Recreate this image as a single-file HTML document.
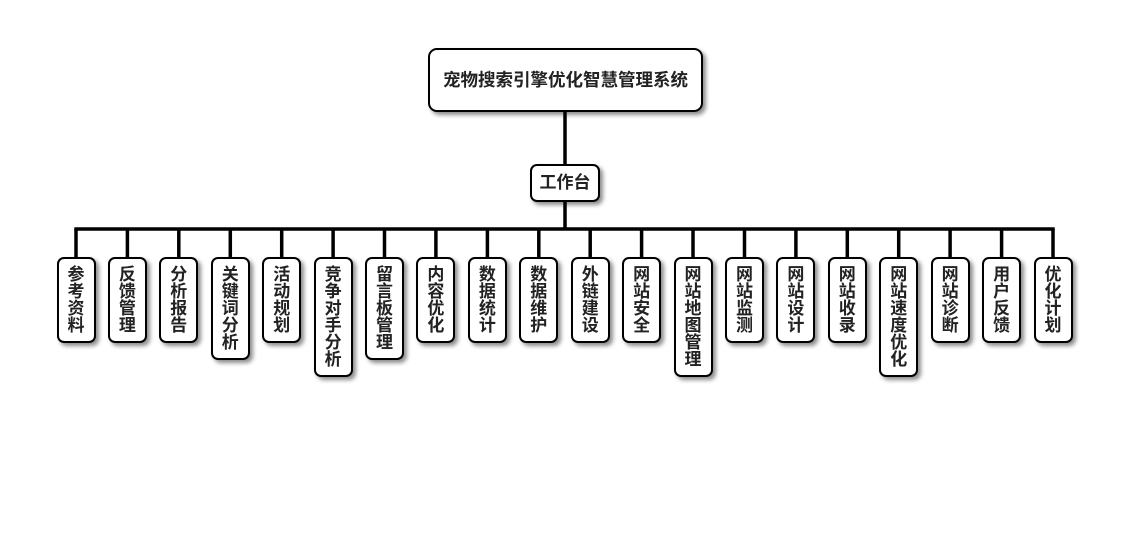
<!DOCTYPE html>
<html>
<head>
<meta charset="utf-8">
<style>
  html,body{margin:0;padding:0;background:#fff;}
  body{width:1130px;height:560px;position:relative;overflow:hidden;
       font-family:"Liberation Sans","Noto Sans CJK SC",sans-serif;font-weight:bold;color:#222;}
  .box{position:absolute;box-sizing:border-box;border:2px solid #000;background:#fff;
       border-radius:7px;box-shadow:3px 3px 4px rgba(0,0,0,0.45);text-align:center;}
  .leaf{width:39px;font-size:17px;line-height:17px;padding-top:7px;}
  svg{position:absolute;left:0;top:0;}
</style>
</head>
<body>
<svg width="1130" height="560">
  <g stroke="#000" stroke-width="3.5" fill="none">
    <line x1="565" y1="112" x2="565" y2="164"/>
    <line x1="565" y1="202" x2="565" y2="229"/>
    <line x1="74.3" y1="229" x2="1054.7" y2="229"/>
    <line x1="76" y1="229" x2="76" y2="258"/>
    <line x1="127.4" y1="229" x2="127.4" y2="258"/>
    <line x1="178.8" y1="229" x2="178.8" y2="258"/>
    <line x1="230.3" y1="229" x2="230.3" y2="258"/>
    <line x1="281.7" y1="229" x2="281.7" y2="258"/>
    <line x1="333.1" y1="229" x2="333.1" y2="258"/>
    <line x1="384.5" y1="229" x2="384.5" y2="258"/>
    <line x1="435.9" y1="229" x2="435.9" y2="258"/>
    <line x1="487.4" y1="229" x2="487.4" y2="258"/>
    <line x1="538.8" y1="229" x2="538.8" y2="258"/>
    <line x1="590.2" y1="229" x2="590.2" y2="258"/>
    <line x1="641.6" y1="229" x2="641.6" y2="258"/>
    <line x1="693.0" y1="229" x2="693.0" y2="258"/>
    <line x1="744.5" y1="229" x2="744.5" y2="258"/>
    <line x1="795.9" y1="229" x2="795.9" y2="258"/>
    <line x1="847.3" y1="229" x2="847.3" y2="258"/>
    <line x1="898.7" y1="229" x2="898.7" y2="258"/>
    <line x1="950.1" y1="229" x2="950.1" y2="258"/>
    <line x1="1001.6" y1="229" x2="1001.6" y2="258"/>
    <line x1="1053" y1="229" x2="1053" y2="258"/>
  </g>
</svg>

<div class="box" style="left:428px;top:48px;width:275px;height:64px;border-radius:9px;font-size:17.5px;line-height:60px;">宠物搜索引擎优化智慧管理系统</div>
<div class="box" style="left:530px;top:164px;width:70px;height:38px;font-size:17px;line-height:34px;">工作台</div>

<div class="box leaf" style="left:56.5px;top:257px;height:86px;">参<br>考<br>资<br>料</div>
<div class="box leaf" style="left:107.9px;top:257px;height:86px;">反<br>馈<br>管<br>理</div>
<div class="box leaf" style="left:159.3px;top:257px;height:86px;">分<br>析<br>报<br>告</div>
<div class="box leaf" style="left:210.8px;top:257px;height:103px;">关<br>键<br>词<br>分<br>析</div>
<div class="box leaf" style="left:262.2px;top:257px;height:86px;">活<br>动<br>规<br>划</div>
<div class="box leaf" style="left:313.6px;top:257px;height:120px;">竞<br>争<br>对<br>手<br>分<br>析</div>
<div class="box leaf" style="left:365.0px;top:257px;height:103px;">留<br>言<br>板<br>管<br>理</div>
<div class="box leaf" style="left:416.4px;top:257px;height:86px;">内<br>容<br>优<br>化</div>
<div class="box leaf" style="left:467.9px;top:257px;height:86px;">数<br>据<br>统<br>计</div>
<div class="box leaf" style="left:519.3px;top:257px;height:86px;">数<br>据<br>维<br>护</div>
<div class="box leaf" style="left:570.7px;top:257px;height:86px;">外<br>链<br>建<br>设</div>
<div class="box leaf" style="left:622.1px;top:257px;height:86px;">网<br>站<br>安<br>全</div>
<div class="box leaf" style="left:673.5px;top:257px;height:120px;">网<br>站<br>地<br>图<br>管<br>理</div>
<div class="box leaf" style="left:725.0px;top:257px;height:86px;">网<br>站<br>监<br>测</div>
<div class="box leaf" style="left:776.4px;top:257px;height:86px;">网<br>站<br>设<br>计</div>
<div class="box leaf" style="left:827.8px;top:257px;height:86px;">网<br>站<br>收<br>录</div>
<div class="box leaf" style="left:879.2px;top:257px;height:120px;">网<br>站<br>速<br>度<br>优<br>化</div>
<div class="box leaf" style="left:930.6px;top:257px;height:86px;">网<br>站<br>诊<br>断</div>
<div class="box leaf" style="left:982.1px;top:257px;height:86px;">用<br>户<br>反<br>馈</div>
<div class="box leaf" style="left:1033.5px;top:257px;height:86px;">优<br>化<br>计<br>划</div>
</body>
</html>
